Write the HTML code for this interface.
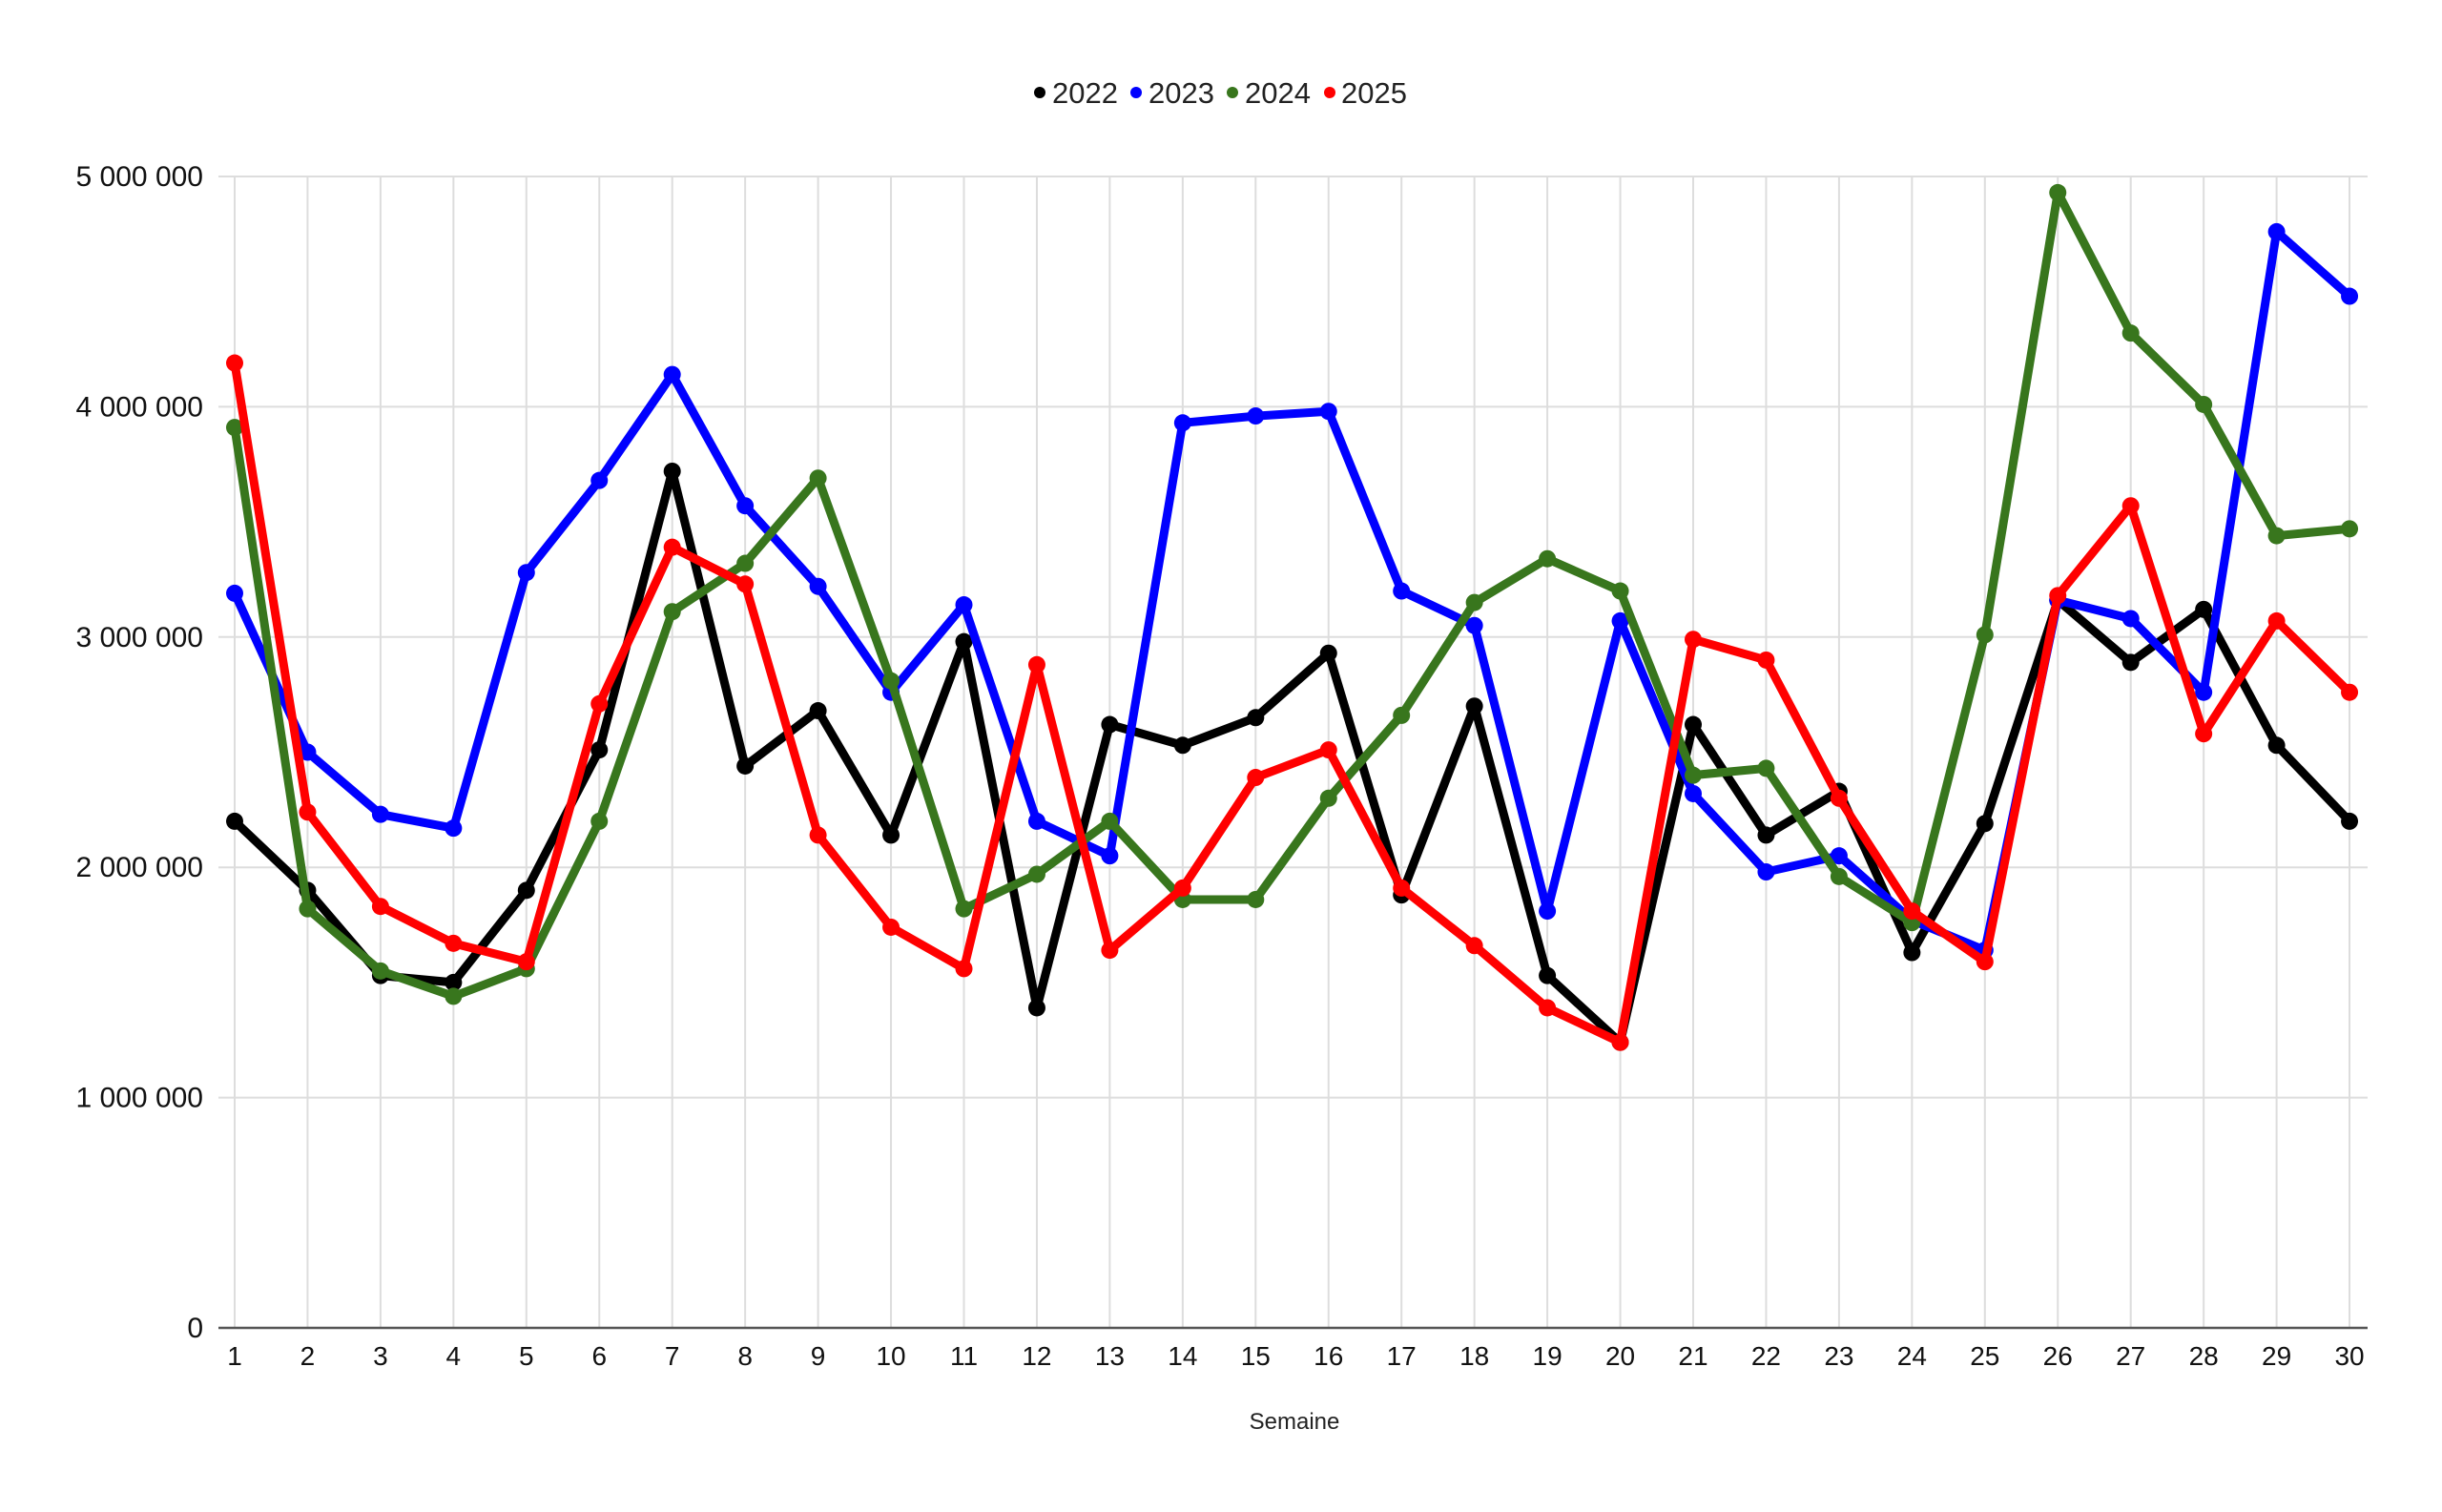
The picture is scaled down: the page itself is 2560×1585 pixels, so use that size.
<!DOCTYPE html>
<html><head><meta charset="utf-8">
<style>
html,body{margin:0;padding:0;background:#fff;}
svg{display:block;font-family:"Liberation Sans",Arial,sans-serif;}
</style></head>
<body>
<svg id="c" width="2560" height="1585" viewBox="0 0 2560 1585" xmlns="http://www.w3.org/2000/svg">
<rect width="2560" height="1585" fill="#fff"/>
<g id="grid"></g>
<g id="series"></g>
<g font-size="31" fill="#222">
<circle cx="1090" cy="97" r="6" fill="#000"/><text x="1103" y="108">2022</text>
<circle cx="1191" cy="97" r="6" fill="#0000ff"/><text x="1204" y="108">2023</text>
<circle cx="1292" cy="97" r="6" fill="#38761d"/><text x="1305" y="108">2024</text>
<circle cx="1394" cy="97" r="6" fill="#ff0000"/><text x="1406" y="108">2025</text>
</g>
<text x="1357" y="1498" font-size="24" fill="#222" text-anchor="middle">Semaine</text>
</svg>
<script>
(function(){
var NS="http://www.w3.org/2000/svg";
var x0=246,dx=76.45,y0=1392,py=241.4;
function X(i){return x0+(i-1)*dx;}
function Y(v){return y0-v*py;}
var g=document.getElementById("grid"),s=document.getElementById("series");
function el(t,a,p){var e=document.createElementNS(NS,t);for(var k in a)e.setAttribute(k,a[k]);p.appendChild(e);return e;}
for(var i=1;i<=5;i++){el("line",{x1:229,x2:2482,y1:Y(i),y2:Y(i),stroke:"#dddddd","stroke-width":2},g);}
for(var i=1;i<=30;i++){el("line",{x1:X(i),x2:X(i),y1:Y(5),y2:y0,stroke:"#dddddd","stroke-width":2},g);
var t=el("text",{x:X(i),y:1431,"font-size":28,fill:"#111","text-anchor":"middle"},g);t.textContent=i;}
var labs=["0","1 000 000","2 000 000","3 000 000","4 000 000","5 000 000"];
for(var i=0;i<=5;i++){var t=el("text",{x:213,y:Y(i)+10,"font-size":30,fill:"#111","text-anchor":"end"},g);t.textContent=labs[i];}
el("line",{x1:229,x2:2482,y1:y0,y2:y0,stroke:"#555","stroke-width":2.5},g);
var D=[
["#000000",[2.20,1.90,1.53,1.50,1.90,2.51,3.72,2.44,2.68,2.14,2.98,1.39,2.62,2.53,2.65,2.93,1.88,2.70,1.53,1.24,2.62,2.14,2.33,1.63,2.19,3.16,2.89,3.12,2.53,2.20]],
["#0000ff",[3.19,2.50,2.23,2.17,3.28,3.68,4.14,3.57,3.22,2.76,3.14,2.20,2.05,3.93,3.96,3.98,3.20,3.05,1.81,3.07,2.32,1.98,2.05,1.77,1.64,3.16,3.08,2.76,4.76,4.48]],
["#38761d",[3.91,1.82,1.55,1.44,1.56,2.20,3.11,3.32,3.69,2.81,1.82,1.97,2.20,1.86,1.86,2.30,2.66,3.15,3.34,3.20,2.40,2.43,1.96,1.76,3.01,4.93,4.32,4.01,3.44,3.47]],
["#ff0000",[4.19,2.24,1.83,1.67,1.59,2.71,3.39,3.23,2.14,1.74,1.56,2.88,1.64,1.91,2.39,2.51,1.91,1.66,1.39,1.24,2.99,2.90,2.30,1.81,1.59,3.18,3.57,2.58,3.07,2.76]]
];
D.forEach(function(d){
var pts=d[1].map(function(v,i){return X(i+1).toFixed(1)+","+Y(v).toFixed(1);}).join(" ");
el("polyline",{points:pts,fill:"none",stroke:d[0],"stroke-width":9,"stroke-linejoin":"round","stroke-linecap":"round"},s);
d[1].forEach(function(v,i){el("circle",{cx:X(i+1),cy:Y(v),r:9,fill:d[0]},s);});
});
})();
</script>
</body></html>
